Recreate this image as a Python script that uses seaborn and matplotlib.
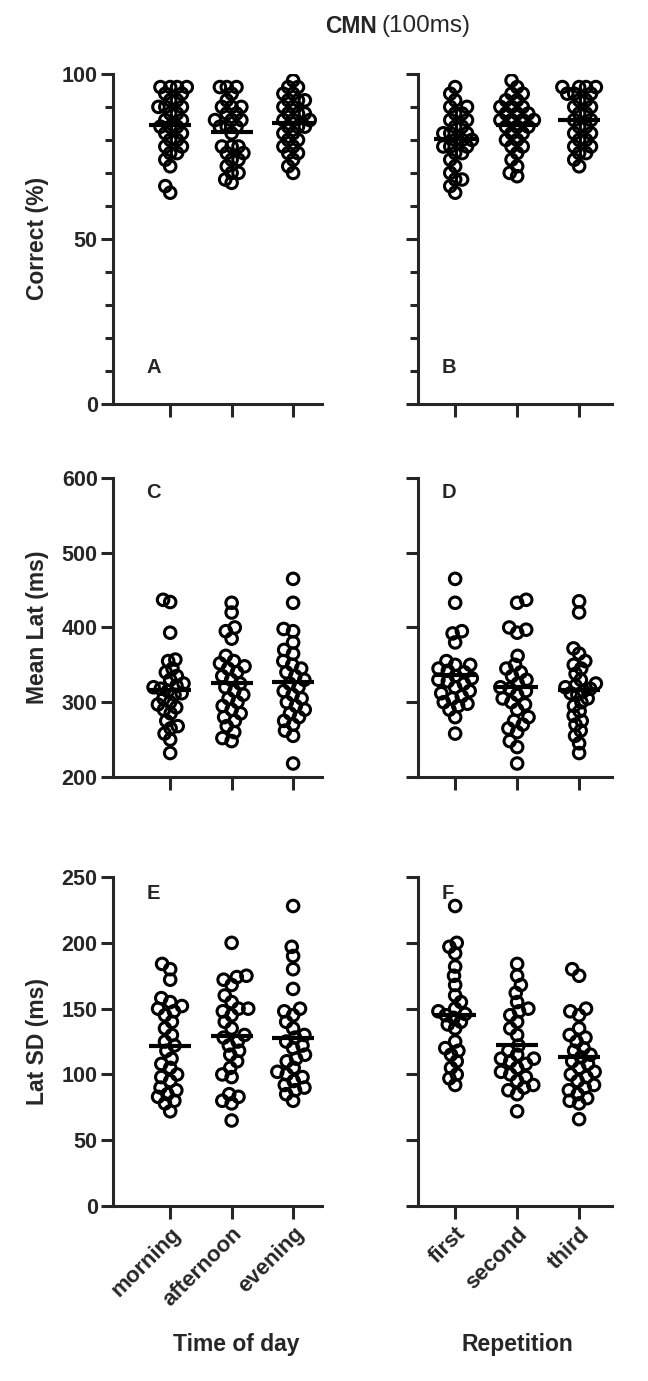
import matplotlib.pyplot as plt
from matplotlib.collections import PathCollection
import numpy as np
import pandas as pd
import seaborn as sns

time_of_day = ['morning', 'afternoon', 'evening']
repetition = ['first', 'second', 'third']

# Correct (%)
correct_morning = [96, 96, 96, 96, 94, 94, 92, 92, 90, 90, 90, 88, 88, 86, 86, 84, 84, 84, 82, 82,
                   80, 80, 78, 78, 76, 76, 74, 72, 66, 64]
correct_afternoon = [96, 96, 96, 94, 92, 90, 90, 90, 88, 88, 86, 86, 86, 84, 84, 84, 82, 78, 78, 78,
                     76, 76, 74, 74, 72, 70, 70, 68, 67]
correct_evening = [98, 96, 96, 94, 94, 92, 92, 92, 90, 90, 88, 88, 88, 86, 86, 86, 84, 84, 84, 82,
                   82, 80, 80, 78, 78, 76, 76, 74, 72, 70]
correct_first = [96, 94, 92, 90, 90, 88, 88, 86, 86, 84, 84, 82, 82, 82, 80, 80, 80, 78, 78, 78,
                 76, 76, 74, 72, 70, 68, 68, 66, 64]
correct_second = [98, 96, 94, 94, 92, 92, 90, 90, 90, 88, 88, 88, 86, 86, 86, 86, 84, 84, 84, 82,
                  82, 80, 80, 78, 78, 76, 74, 72, 70, 69]
correct_third = [96, 96, 96, 96, 94, 94, 94, 92, 92, 90, 90, 88, 88, 86, 86, 84, 84, 82, 82, 80,
                 80, 78, 78, 76, 76, 74, 72]

# Mean latency (ms)
lat_morning = [437, 434, 393, 357, 355, 345, 340, 335, 330, 325, 322, 320, 318, 315, 312, 310, 305,
               300, 297, 293, 290, 285, 275, 268, 265, 258, 250, 232]
lat_afternoon = [433, 420, 400, 395, 385, 362, 355, 352, 348, 345, 340, 335, 330, 325, 320, 315, 310,
                 305, 300, 295, 290, 285, 280, 275, 268, 260, 252, 248]
lat_evening = [465, 433, 398, 395, 380, 370, 365, 355, 350, 345, 340, 335, 330, 325, 320, 315, 310,
               305, 300, 295, 290, 285, 280, 275, 270, 262, 255, 218]
lat_first = [465, 433, 395, 392, 380, 350, 355, 350, 345, 342, 340, 335, 332, 330, 328, 325, 320,
             315, 312, 308, 305, 300, 298, 295, 290, 280, 258]
lat_second = [437, 433, 400, 397, 393, 362, 350, 345, 340, 335, 330, 325, 320, 318, 315, 310, 305,
              300, 297, 290, 280, 275, 270, 265, 260, 248, 240, 218]
lat_third = [435, 420, 372, 365, 355, 350, 345, 338, 330, 325, 322, 320, 318, 315, 312, 310, 305,
             300, 295, 288, 282, 275, 270, 262, 255, 245, 232]

# Latency SD (ms)
sd_morning = [184, 180, 172, 158, 155, 152, 150, 148, 145, 140, 135, 130, 125, 122, 118, 112, 108,
              105, 100, 98, 95, 90, 88, 85, 83, 80, 78, 72]
sd_afternoon = [200, 175, 174, 172, 168, 160, 155, 150, 150, 148, 145, 140, 135, 130, 128, 125, 122,
                118, 115, 110, 105, 100, 98, 85, 83, 80, 78, 65]
sd_evening = [228, 197, 190, 180, 165, 150, 148, 145, 140, 135, 130, 128, 125, 122, 120, 115, 112,
              110, 105, 102, 100, 98, 95, 92, 90, 88, 85, 80]
sd_first = [228, 200, 197, 192, 182, 175, 168, 160, 155, 150, 148, 146, 145, 143, 140, 138, 135,
            125, 120, 118, 115, 110, 105, 100, 97, 92]
sd_second = [184, 175, 168, 162, 155, 150, 148, 145, 140, 135, 130, 112, 110, 122, 118, 115, 112,
             108, 105, 102, 100, 98, 95, 92, 90, 88, 85, 72]
sd_third = [180, 175, 150, 148, 145, 135, 130, 128, 125, 120, 118, 115, 113, 110, 108, 105, 102,
            100, 98, 95, 92, 90, 88, 85, 82, 80, 78, 66]

sns.set_style('ticks')
plt.rcParams['font.family'] = ['Liberation Sans', 'DejaVu Sans']
plt.rcParams['font.weight'] = 'bold'
plt.rcParams['axes.linewidth'] = 2.2


def draw_panel(ax, groups, values, ylim, yticks, minor, letter, letter_y, show_ylabels, xlim):
    df = pd.DataFrame({'group': np.repeat(groups, [len(v) for v in values]),
                       'value': np.concatenate(values)})
    # small markers for the swarm layout, enlarged later so rings overlap like the original
    sns.swarmplot(data=df, x='group', y='value', order=groups, ax=ax, size=4.5,
                  marker='o', color='black', linewidth=2.2, warn_thresh=1)
    for c in ax.collections:
        c.set_facecolor('none')
        c.set_edgecolor('black')
    means = df.groupby('group')['value'].mean().reindex(groups)
    pos = np.arange(len(groups))
    ax.hlines(means.values, pos - 0.34, pos + 0.34, color='black', lw=3, zorder=5)
    ax.set_ylim(*ylim)
    ax.set_xlim(*xlim)
    ax.set_yticks(yticks)
    if minor is not None:
        ax.set_yticks(minor, minor=True)
    ax.tick_params(axis='both', which='major', length=9, width=2.2, labelsize=15.5)
    ax.tick_params(axis='y', which='major', pad=2)
    ax.tick_params(axis='y', which='minor', length=6, width=2.2)
    if not show_ylabels:
        ax.set_yticklabels([])
    ax.set_xlabel('')
    ax.set_ylabel('')
    sns.despine(ax=ax)
    ax.text(0.16 if show_ylabels else 0.12, letter_y, letter, transform=ax.transAxes,
            fontsize=14.5, fontweight='bold', va='center', ha='left')


fig = plt.figure(figsize=(6.48, 13.81), dpi=100)
left_x, left_w = 0.1744, 0.3225
right_x, right_w = 0.645, 0.2994
rows = [(0.7075, 0.239), (0.4374, 0.2165), (0.1267, 0.2382)]
left_xlim = (-0.93, 2.47)
right_xlim = (-0.6, 2.53)

axA = fig.add_axes([left_x, rows[0][0], left_w, rows[0][1]])
axB = fig.add_axes([right_x, rows[0][0], right_w, rows[0][1]])
axC = fig.add_axes([left_x, rows[1][0], left_w, rows[1][1]])
axD = fig.add_axes([right_x, rows[1][0], right_w, rows[1][1]])
axE = fig.add_axes([left_x, rows[2][0], left_w, rows[2][1]])
axF = fig.add_axes([right_x, rows[2][0], right_w, rows[2][1]])

minor_pct = [10, 20, 30, 40, 60, 70, 80, 90]
draw_panel(axA, time_of_day, [correct_morning, correct_afternoon, correct_evening],
           (0, 100), [0, 50, 100], minor_pct, 'A', 0.11, True, left_xlim)
draw_panel(axB, repetition, [correct_first, correct_second, correct_third],
           (0, 100), [0, 50, 100], minor_pct, 'B', 0.11, False, right_xlim)
draw_panel(axC, time_of_day, [lat_morning, lat_afternoon, lat_evening],
           (200, 600), [200, 300, 400, 500, 600], None, 'C', 0.95, True, left_xlim)
draw_panel(axD, repetition, [lat_first, lat_second, lat_third],
           (200, 600), [200, 300, 400, 500, 600], None, 'D', 0.95, False, right_xlim)
draw_panel(axE, time_of_day, [sd_morning, sd_afternoon, sd_evening],
           (0, 250), [0, 50, 100, 150, 200, 250], None, 'E', 0.95, True, left_xlim)
draw_panel(axF, repetition, [sd_first, sd_second, sd_third],
           (0, 250), [0, 50, 100, 150, 200, 250], None, 'F', 0.95, False, right_xlim)

for ax in [axA, axB, axC, axD]:
    ax.set_xticklabels([])
for ax in [axE, axF]:
    plt.setp(ax.get_xticklabels(), rotation=45, ha='right', rotation_mode='anchor',
             fontweight='bold', fontsize=16)

axA.set_ylabel('Correct (%)', fontsize=16.5, fontweight='bold')
axC.set_ylabel('Mean Lat (ms)', fontsize=16.5, fontweight='bold')
axE.set_ylabel('Lat SD (ms)', fontsize=16.5, fontweight='bold')
for ax in [axA, axC, axE]:
    ax.yaxis.set_label_coords(-0.305, 0.5)
axE.set_xlabel('Time of day', fontsize=16.5, fontweight='bold')
axF.set_xlabel('Repetition', fontsize=16.5, fontweight='bold')
axE.xaxis.set_label_coords(0.59, -0.385)
axF.xaxis.set_label_coords(0.51, -0.385)

fig.text(0.582, 0.981, 'CMN', fontsize=16.5, fontweight='bold', ha='right', va='center')
fig.text(0.589, 0.981, '(100ms)', fontsize=17.5, fontweight='normal', ha='left', va='center')

# lay out the swarms once, then freeze them, squeeze them and enlarge the rings
fig.canvas.draw()
for ax in [axA, axB, axC, axD, axE, axF]:
    for c in ax.collections:
        if not isinstance(c, PathCollection):
            continue
        c.__dict__.pop('draw', None)
        offs = np.asarray(c.get_offsets(), dtype=float)
        center = np.round(offs[:, 0])
        dev = offs[:, 0] - center
        span = np.abs(dev).max()
        if span > 0.27:
            dev = dev * 0.27 / span
        offs[:, 0] = center + dev
        c.set_offsets(offs)
        c.set_sizes([8.3 ** 2])
        c.set_linewidth(2.2)

plt.savefig('out.png', dpi=100)
